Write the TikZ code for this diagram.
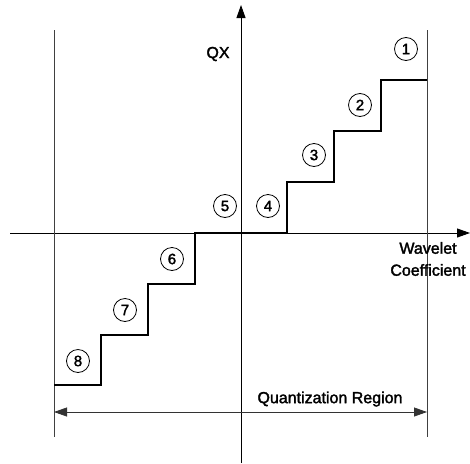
\documentclass[tikz,border=0pt]{standalone}
\usepackage{fontspec}
\setmainfont{Liberation Sans}[FakeBold=2]
\usetikzlibrary{arrows.meta}
\begin{document}
\begin{tikzpicture}[x=1pt,y=-1pt,
  axis/.style={line width=0.9pt,-{Triangle[length=13pt,width=9pt]}},
  bound/.style={line width=0.7pt,black!75},
  stair/.style={line width=2.2pt,line join=miter},
  region/.style={line width=0.8pt,black!80,{Triangle[length=13pt,width=9pt]}-{Triangle[length=13pt,width=9pt]}},
  lvl/.style={circle,draw,line width=0.8pt,inner sep=0pt,minimum size=23pt,font=\fontsize{15}{15}\selectfont},
  lbl/.style={font=\fontsize{16}{22}\selectfont,inner sep=0pt}]
\useasboundingbox (0,0) rectangle (470,463);
% axes
\coordinate (yb) at (241,463);
\coordinate (yt) at (241,5);
\coordinate (xl) at (10,233);
\coordinate (xr) at (470,233);
\draw[axis] (yb) -- (yt);
\draw[axis] (xl) -- (xr);
% limits of the quantization region
\coordinate (lt) at (54,30);  \coordinate (lb) at (54,437);
\coordinate (rt) at (427,30); \coordinate (rb) at (427,437);
\draw[bound] (lt) -- (lb);
\draw[bound] (rt) -- (rb);
% staircase
\coordinate (s0) at (54,385);
\draw[stair] (s0) -- ++(47,0) -- ++(0,-50) -- ++(47,0) -- ++(0,-51)
  -- ++(47,0) -- ++(0,-51) -- ++(92,0) -- ++(0,-51) -- ++(47,0)
  -- ++(0,-51) -- ++(47,0) -- ++(0,-51) -- (427,80);
% level numbers
\node[lvl] (n1) at (406,49) {1};
\node[lvl] (n2) at (360,105) {2};
\node[lvl] (n3) at (314,155) {3};
\node[lvl] (n4) at (268,206) {4};
\node[lvl] (n5) at (225,206) {5};
\node[lvl] (n6) at (172,259) {6};
\node[lvl] (n7) at (125,310) {7};
\node[lvl] (n8) at (78,361) {8};
% labels
\node[lbl] (qx) at (218,54) {QX};
\node[lbl,align=center] (wc) at (428,259) {Wavelet\\Coefficient};
\node[lbl] (qr) at (330,399) {Quantization Region};
\coordinate (ql) at (54,412);
\coordinate (qrr) at (427,412);
\draw[region] (ql) -- (qrr);
\end{tikzpicture}
\end{document}
